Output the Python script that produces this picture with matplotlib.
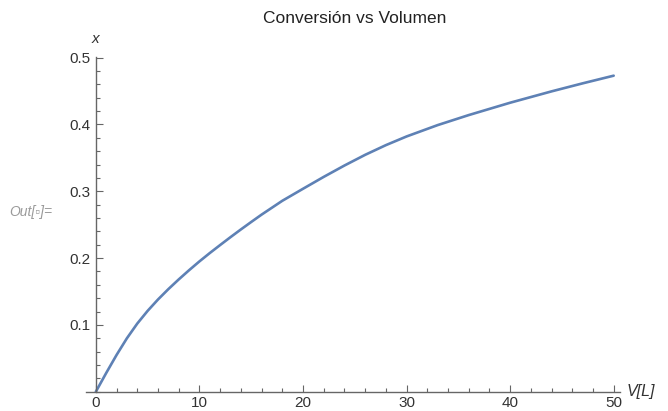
import matplotlib.pyplot as plt
from matplotlib.ticker import MultipleLocator

plt.rcParams['font.family'] = ['Liberation Sans', 'DejaVu Sans']

volume = [0, 1, 2, 3, 4, 5, 6, 7, 8, 9, 10, 11, 12, 13, 14, 15, 16, 18,
          20, 22, 24, 26, 28, 30, 33, 36, 40, 44, 47, 50]
conversion = [0, 0.028, 0.055, 0.080, 0.102, 0.121, 0.138, 0.1535, 0.168,
              0.1818, 0.195, 0.2075, 0.2195, 0.2313, 0.2428, 0.254, 0.2650,
              0.2857, 0.3037, 0.3215, 0.3385, 0.3545, 0.369, 0.382, 0.399,
              0.414, 0.4325, 0.4495, 0.4615, 0.473]

axis_col = '#666666'
text_col = '#333333'

fig = plt.figure(figsize=(6.68, 4.11), dpi=100)
ax = fig.add_axes([0.128, 0.047, 0.800, 0.8144])

ax.plot(volume, conversion, color='#5E81B5', lw=1.9, solid_capstyle='round')

ax.set_xlim(-1, 50.6)
ax.set_ylim(0, 0.501)

ax.spines['left'].set_position(('data', 0))
ax.spines['top'].set_visible(False)
ax.spines['right'].set_visible(False)
for s in ('left', 'bottom'):
    ax.spines[s].set_color(axis_col)
    ax.spines[s].set_linewidth(1.0)

ax.xaxis.set_major_locator(MultipleLocator(10))
ax.xaxis.set_minor_locator(MultipleLocator(2))
ax.yaxis.set_major_locator(MultipleLocator(0.1))
ax.yaxis.set_minor_locator(MultipleLocator(0.02))
ax.set_yticks([0.1, 0.2, 0.3, 0.4, 0.5])
ax.set_yticklabels(['0.1', '0.2', '0.3', '0.4', '0.5'])

ax.tick_params(which='both', direction='in', color=axis_col,
               labelcolor=text_col, labelsize=11, width=0.8)
ax.tick_params(which='major', length=5)
ax.tick_params(which='minor', length=3)
ax.tick_params(axis='x', pad=3)
ax.tick_params(axis='y', pad=4)

fig.text(0.531, 0.955, 'Conversión vs Volumen', ha='center', va='center',
         fontsize=12.5, color='#222222')
fig.text(0.143, 0.905, 'x', ha='center', va='center', fontsize=11,
         style='italic', color=text_col)
fig.text(0.938, 0.047, 'V[L]', ha='left', va='center', fontsize=11.5,
         style='italic', color=text_col)
fig.text(0.014, 0.484, 'Out[\u25ab]=', ha='left', va='center', fontsize=10,
         style='italic', color='#9a9a9a')

fig.savefig('out.png', dpi=100)
